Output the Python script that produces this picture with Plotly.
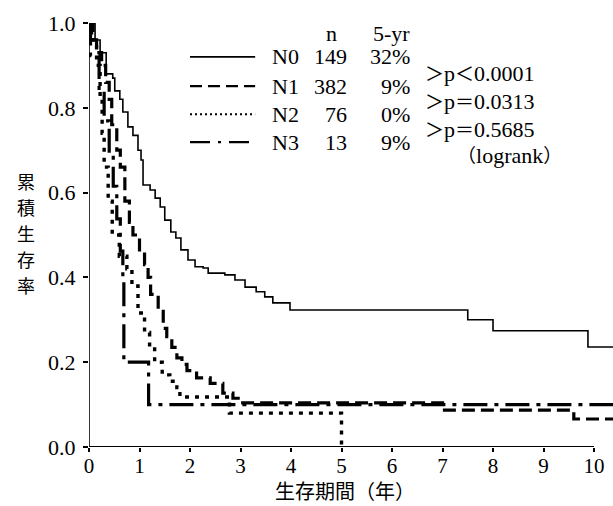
import plotly.graph_objects as go

# ---- data ----
n0_t = [0, 0.12, 0.22, 0.34, 0.47, 0.51, 0.61, 0.67, 0.77, 0.87, 0.97, 1.03, 1.07, 1.21, 1.31, 1.41,
        1.50, 1.62, 1.72, 1.82, 1.96, 2.10, 2.26, 2.36, 2.69, 2.89, 3.09, 3.31, 3.48, 3.64, 3.98,
        7.50, 8.00, 9.88, 10.4]
n0_s = [1.0, 0.96, 0.93, 0.88, 0.87, 0.84, 0.82, 0.79, 0.755, 0.735, 0.70, 0.677, 0.618, 0.606, 0.587, 0.566,
        0.535, 0.507, 0.493, 0.465, 0.441, 0.425, 0.422, 0.410, 0.406, 0.394, 0.377, 0.366, 0.354, 0.34, 0.323,
        0.30, 0.274, 0.236, 0.236]

n1_t = [0, 0.08, 0.15, 0.25, 0.33, 0.40, 0.45, 0.55, 0.62, 0.71, 0.80, 0.87, 1.00, 1.10, 1.17, 1.22,
        1.37, 1.47, 1.54, 1.64, 1.74, 1.84, 1.94, 2.13, 2.40, 2.65, 2.85, 3.00, 7.00, 9.60, 10.4]
n1_s = [1.0, 0.96, 0.93, 0.90, 0.86, 0.82, 0.76, 0.70, 0.66, 0.58, 0.53, 0.50, 0.46, 0.43, 0.40, 0.36,
        0.32, 0.28, 0.26, 0.235, 0.21, 0.195, 0.18, 0.163, 0.15, 0.127, 0.115, 0.104, 0.087, 0.066, 0.066]

n2_t = [0, 0.05, 0.15, 0.22, 0.26, 0.30, 0.38, 0.46, 0.60, 0.75, 0.85, 0.97, 1.10, 1.20, 1.30, 1.45,
        1.60, 1.74, 1.80, 2.78, 5.00]
n2_s = [1.0, 0.96, 0.90, 0.82, 0.74, 0.66, 0.58, 0.50, 0.45, 0.42, 0.38, 0.316, 0.27, 0.236, 0.20, 0.17,
        0.155, 0.14, 0.118, 0.08, 0.0]

n3_t = [0, 0.03, 0.20, 0.30, 0.40, 0.48, 0.55, 0.62, 0.67, 0.69, 1.18, 10.4]
n3_s = [1.0, 0.923, 0.846, 0.769, 0.692, 0.615, 0.538, 0.462, 0.40, 0.20, 0.10, 0.10]

groups = ["N0", "N1", "N2", "N3"]
counts = ["149", "382", "76", "13"]
five_yr = ["32%", "9%", "0%", "9%"]
pvalues = ["＞p＜0.0001", "＞p＝0.0313", "＞p＝0.5685"]
test_name = "（logrank）"
y_title = "累積生存率"
x_title = "生存期間（年）"

x_ticks = list(range(0, 11))
y_ticks = [0.0, 0.2, 0.4, 0.6, 0.8, 1.0]

FONT = "Liberation Serif"
CJK = "Noto Sans CJK JP"


def mixed(txt):
    """Render full-width symbols with the CJK font, everything else in the serif font."""
    out = ""
    for ch in txt:
        if ord(ch) > 0xFF00:
            out += f'<span style="font-family:{CJK};font-size:19px">{ch}</span>'
        else:
            out += ch
    return out


fig = go.Figure()
series = [
    (n0_t, n0_s, dict(color="black", width=1.6, dash="solid")),
    (n1_t, n1_s, dict(color="black", width=3.2, dash="13px,6px")),
    (n2_t, n2_s, dict(color="black", width=3.4, dash="4px,6px")),
    (n3_t, n3_s, dict(color="black", width=3.2, dash="24px,7px,4px,7px")),
]
for (t, s, ln), name in zip(series, groups):
    fig.add_trace(go.Scatter(x=t, y=s, mode="lines", line=ln, line_shape="hv",
                             name=name, showlegend=False, hoverinfo="skip"))

# axis lines
fig.add_shape(type="line", xref="x", yref="y", x0=-0.04, x1=10, y0=0, y1=0,
              line=dict(color="black", width=2))
fig.add_shape(type="line", xref="x", yref="y", x0=-0.01, x1=-0.01, y0=0, y1=1.0,
              line=dict(color="black", width=2.6))

# legend block
row_y = [0.920, 0.851, 0.785, 0.719]
leg_dash = ["solid", "12px,6px", "2px,3px", "20px,8px,3px,8px"]
leg_w = [1.6, 2.2, 2.0, 2.2]
for i in range(4):
    fig.add_shape(type="line", xref="x", yref="y", x0=2.0, x1=3.29, y0=row_y[i], y1=row_y[i],
                  line=dict(color="black", width=leg_w[i], dash=leg_dash[i]))
    fig.add_annotation(x=3.58, y=row_y[i], text=groups[i], showarrow=False, xanchor="left",
                       yanchor="middle", font=dict(family=FONT, size=22, color="black"))
    fig.add_annotation(x=5.15, y=row_y[i], text=counts[i], showarrow=False, xanchor="right",
                       yanchor="middle", font=dict(family=FONT, size=22, color="black"))
    fig.add_annotation(x=6.40, y=row_y[i], text=five_yr[i], showarrow=False, xanchor="right",
                       yanchor="middle", font=dict(family=FONT, size=22, color="black"))

fig.add_annotation(x=4.81, y=0.976, text="n", showarrow=False, xanchor="center", yanchor="middle",
                   font=dict(family=FONT, size=22, color="black"))
fig.add_annotation(x=6.40, y=0.976, text="5-yr", showarrow=False, xanchor="right", yanchor="middle",
                   font=dict(family=FONT, size=22, color="black"))

p_y = [0.884, 0.818, 0.752]
for i in range(3):
    fig.add_annotation(x=6.62, y=p_y[i], text=mixed(pvalues[i]), showarrow=False, xanchor="left",
                       yanchor="middle", font=dict(family=FONT, size=22, color="black"))
fig.add_annotation(x=7.25, y=0.689, text=mixed(test_name), showarrow=False, xanchor="left",
                   yanchor="middle", font=dict(family=FONT, size=22, color="black"))

# axis titles (vertical Japanese title: one character per line)
step = 26 / 424.0
mid = 0.505
n_ch = len(y_title)
for k, ch in enumerate(y_title):
    fig.add_annotation(xref="paper", yref="paper", x=-0.12, y=mid + (n_ch - 1) / 2 * step - k * step,
                       text=ch, showarrow=False, xanchor="center", yanchor="middle",
                       font=dict(family=CJK, size=18, color="black"))
fig.add_annotation(xref="paper", yref="paper", x=0.4885, y=-0.103, text=x_title,
                   showarrow=False, xanchor="center", yanchor="middle",
                   font=dict(family=CJK, size=20, color="black"))

fig.update_xaxes(range=[0, 10.376], tickvals=x_ticks, ticktext=[str(v) for v in x_ticks],
                 showgrid=False, zeroline=False, showline=False, ticks="outside", ticklen=4,
                 tickwidth=1.5, tickcolor="black", automargin=False, ticklabelstandoff=-4,
                 tickfont=dict(family=FONT, size=21, color="black"))
fig.update_yaxes(range=[0, 1.0], tickvals=y_ticks, ticktext=[f"{v:.1f}" for v in y_ticks],
                 showgrid=False, zeroline=False, showline=False, ticks="outside", ticklen=5,
                 tickwidth=1.5, tickcolor="black", automargin=False, ticklabelstandoff=3,
                 tickfont=dict(family=FONT, size=22, color="black"))

fig.update_layout(width=613, height=506, margin=dict(l=89, r=0, t=23, b=59),
                  plot_bgcolor="white", paper_bgcolor="white", showlegend=False)

fig.write_html("out.html", config={"displayModeBar": False},
               post_script="document.body.style.margin='0px';")
